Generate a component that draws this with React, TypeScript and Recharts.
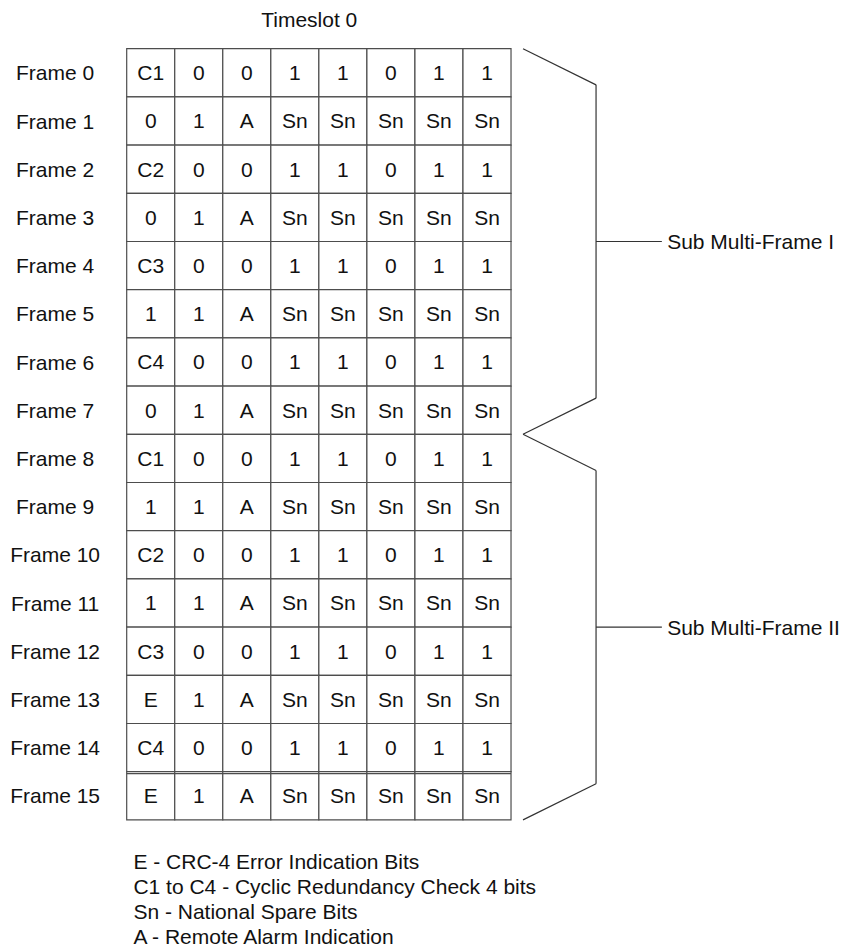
import React from 'react';
import { ScatterChart, Scatter, XAxis, YAxis, ReferenceArea, ReferenceLine } from 'recharts';

const TITLE = 'Timeslot 0';

const FRAMES = [
  'Frame 0', 'Frame 1', 'Frame 2', 'Frame 3', 'Frame 4', 'Frame 5', 'Frame 6', 'Frame 7',
  'Frame 8', 'Frame 9', 'Frame 10', 'Frame 11', 'Frame 12', 'Frame 13', 'Frame 14', 'Frame 15',
];

const BITS = [
  ['C1', '0', '0', '1', '1', '0', '1', '1'],
  ['0', '1', 'A', 'Sn', 'Sn', 'Sn', 'Sn', 'Sn'],
  ['C2', '0', '0', '1', '1', '0', '1', '1'],
  ['0', '1', 'A', 'Sn', 'Sn', 'Sn', 'Sn', 'Sn'],
  ['C3', '0', '0', '1', '1', '0', '1', '1'],
  ['1', '1', 'A', 'Sn', 'Sn', 'Sn', 'Sn', 'Sn'],
  ['C4', '0', '0', '1', '1', '0', '1', '1'],
  ['0', '1', 'A', 'Sn', 'Sn', 'Sn', 'Sn', 'Sn'],
  ['C1', '0', '0', '1', '1', '0', '1', '1'],
  ['1', '1', 'A', 'Sn', 'Sn', 'Sn', 'Sn', 'Sn'],
  ['C2', '0', '0', '1', '1', '0', '1', '1'],
  ['1', '1', 'A', 'Sn', 'Sn', 'Sn', 'Sn', 'Sn'],
  ['C3', '0', '0', '1', '1', '0', '1', '1'],
  ['E', '1', 'A', 'Sn', 'Sn', 'Sn', 'Sn', 'Sn'],
  ['C4', '0', '0', '1', '1', '0', '1', '1'],
  ['E', '1', 'A', 'Sn', 'Sn', 'Sn', 'Sn', 'Sn'],
];

const GROUP_NAMES = ['Sub Multi-Frame I', 'Sub Multi-Frame II'];
const GROUP_START = [0, 8];
const GROUP_END = [8, 16];

const LEGEND = [
  'E - CRC-4 Error Indication Bits',
  'C1 to C4 - Cyclic Redundancy Check 4 bits',
  'Sn - National Spare Bits',
  'A - Remote Alarm Indication',
];

// layout, in cell units (1 unit = one column / one row)
const W = 846;
const H = 949;
const COL_PX = 48.04;
const ROW_PX = 48.2;
const GRID_LEFT = 126.7;
const GRID_TOP = 48.7;
const X_DOMAIN = [-GRID_LEFT / COL_PX, (W - GRID_LEFT) / COL_PX];
const Y_DOMAIN = [-GRID_TOP / ROW_PX, (H - GRID_TOP) / ROW_PX];

const LABEL_X = -1.49;
const BRACE_IN = 8.25;
const BRACE_OUT = 9.77;
const BRACE_SLOPE = 0.75;
const TICK_END = 11.14;
const GROUP_TEXT_X = 11.25;
const TITLE_POS = { x: 3.8, y: -0.6 };
const LEGEND_X = 0.14;
const LEGEND_Y = 16.87;
const LEGEND_STEP = 0.515;

const LINE = '#4d4d4d';
const FONT = 'Liberation Sans, Arial, Helvetica, sans-serif';

const frameData = FRAMES.map((f, i) => ({ x: LABEL_X, y: i + 0.5, text: f, anchor: 'middle' }));
const titleData = [{ x: TITLE_POS.x, y: TITLE_POS.y, text: TITLE, anchor: 'middle' }];
const groupData = GROUP_NAMES.map((g, i) => ({
  x: GROUP_TEXT_X,
  y: (GROUP_START[i] + GROUP_END[i]) / 2,
  text: g,
  anchor: 'start',
}));
const legendData = LEGEND.map((t, i) => ({ x: LEGEND_X, y: LEGEND_Y + i * LEGEND_STEP, text: t, anchor: 'start' }));

const TextMark = (props: any) => {
  const { cx, cy, payload } = props;
  return (
    <text x={cx} y={cy} dy="0.36em" textAnchor={payload.anchor} fontSize={21} fill="#111" fontFamily={FONT}>
      {payload.text}
    </text>
  );
};

export default function App() {
  const braces: any[] = [];
  GROUP_NAMES.forEach((_, i) => {
    const a = GROUP_START[i];
    const b = GROUP_END[i];
    const pts = [
      { x: BRACE_IN, y: a },
      { x: BRACE_OUT, y: a + BRACE_SLOPE },
      { x: BRACE_OUT, y: b - BRACE_SLOPE },
      { x: BRACE_IN, y: b },
    ];
    for (let k = 0; k < pts.length - 1; k++) {
      braces.push(
        <ReferenceLine key={`br-${i}-${k}`} segment={[pts[k], pts[k + 1]]} stroke="#333" strokeWidth={1.2} ifOverflow="visible" />
      );
    }
    braces.push(
      <ReferenceLine
        key={`tk-${i}`}
        segment={[{ x: BRACE_OUT, y: (a + b) / 2 }, { x: TICK_END, y: (a + b) / 2 }]}
        stroke="#333"
        strokeWidth={1.2}
        ifOverflow="visible"
      />
    );
  });

  return (
    <div style={{ position: 'absolute', left: 0, top: 0, width: W, height: H, background: '#fff', fontFamily: FONT }}>
      <ScatterChart width={W} height={H} margin={{ top: 0, right: 0, bottom: 0, left: 0 }}>
        <XAxis type="number" dataKey="x" domain={X_DOMAIN} hide allowDataOverflow />
        <YAxis type="number" dataKey="y" domain={Y_DOMAIN} reversed hide allowDataOverflow />
        {BITS.map((row, r) =>
          row.map((bit, c) => (
            <ReferenceArea
              key={`c-${r}-${c}`}
              x1={c}
              x2={c + 1}
              y1={r}
              y2={r + 1}
              fill="#fff"
              fillOpacity={1}
              stroke={LINE}
              strokeWidth={1.2}
              ifOverflow="visible"
              label={{ value: bit, position: 'center', fontSize: 21, fill: '#111', fontFamily: FONT }}
            />
          ))
        )}
        <ReferenceLine
          segment={[{ x: 0, y: 15.04 }, { x: BITS[0].length, y: 15.04 }]}
          stroke={LINE}
          strokeWidth={1.2}
          ifOverflow="visible"
        />
        {braces}
        <Scatter data={titleData} shape={TextMark} isAnimationActive={false} />
        <Scatter data={frameData} shape={TextMark} isAnimationActive={false} />
        <Scatter data={groupData} shape={TextMark} isAnimationActive={false} />
        <Scatter data={legendData} shape={TextMark} isAnimationActive={false} />
      </ScatterChart>
    </div>
  );
}
